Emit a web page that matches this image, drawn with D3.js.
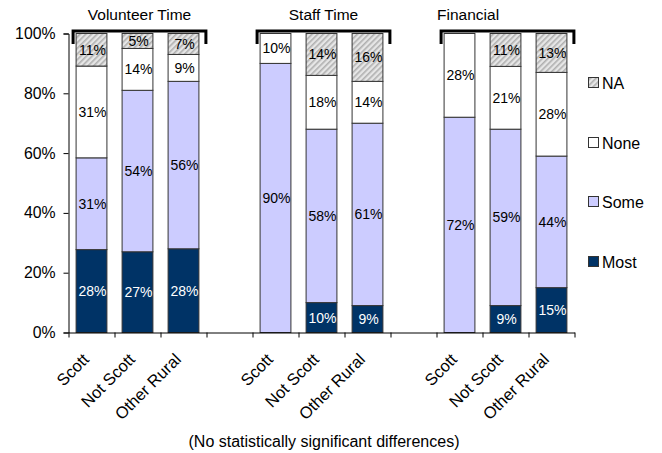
<!DOCTYPE html>
<html><head><meta charset="utf-8">
<script src="https://cdn.jsdelivr.net/npm/d3@7"></script>
<style>
body{margin:0;background:#fff;}
text{font-family:"Liberation Sans",Arial,sans-serif;}
</style></head>
<body><svg id="c" width="662" height="453"></svg>
<script>
const groups = ["Volunteer Time","Staff Time","Financial"];
const categories = ["Scott","Not Scott","Other Rural"];
const seriesNames = ["Most","Some","None","NA"];
// values per group, per category: [Most, Some, None, NA]
const volunteerValues = [[28,31,31,11],[27,54,14,5],[28,56,9,7]];
const staffValues = [[0,90,10,0],[10,58,18,14],[9,61,14,16]];
const financialValues = [[0,72,28,0],[9,59,21,11],[15,44,28,13]];
const yTicks = [0,0.2,0.4,0.6,0.8,1];
const footnote = "(No statistically significant differences)";

const groupValues = [volunteerValues, staffValues, financialValues];
const colors = {Most:"#003366", Some:"#CCCCFF", None:"#FFFFFF", NA:"url(#hatch)"};
const labelColors = {Most:"#fff", Some:"#000", None:"#000", NA:"#000"};

const svg = d3.select("#c");
const defs = svg.append("defs");
const pat = defs.append("pattern").attr("id","hatch").attr("patternUnits","userSpaceOnUse")
  .attr("width",4).attr("height",4).attr("patternTransform","rotate(45)");
pat.append("rect").attr("width",4).attr("height",4).attr("fill","#e6e6e6");
pat.append("rect").attr("width",1.6).attr("height",4).attr("fill","#b0b0b0");

// Build slots
const slots = [];
groups.forEach((g,gi)=>{
  categories.forEach((c,ci)=>slots.push({g,gi,c,ci,id:g+"|"+c}));
  if(gi<groups.length-1) slots.push({gap:true,id:"gap"+gi});
});
const mLeft=68.5, mRight=574.5, mTop=33.5, mBottom=332.5;
const x = d3.scaleBand().domain(slots.map(s=>s.id)).range([mLeft,mRight]).padding(0);
const xEdge = d3.scaleLinear().domain([0,slots.length]).range([mLeft,mRight]);
const y = d3.scaleLinear().domain([0,1]).range([mBottom,mTop]);
const bw = x.bandwidth()*0.67;

// Data rows
const rows = [];
groups.forEach((g,gi)=>categories.forEach((c,ci)=>{
  const r = {id:g+"|"+c};
  seriesNames.forEach((s,si)=>r[s]=groupValues[gi][ci][si]);
  rows.push(r);
}));
const stack = d3.stack().keys(seriesNames).offset(d3.stackOffsetExpand);
const series = stack(rows);

const gBars = svg.append("g");
series.forEach(ser=>{
  ser.forEach(d=>{
    const v = d.data[ser.key];
    if(v<=0) return;
    const x0 = x(d.data.id)+(x.bandwidth()-bw)/2;
    gBars.append("rect").attr("x",x0).attr("y",y(d[1])).attr("width",bw)
      .attr("height",y(d[0])-y(d[1])).attr("fill",colors[ser.key])
      .attr("stroke","#333").attr("stroke-width",1);
  });
});
series.forEach(ser=>{
  ser.forEach(d=>{
    const v = d.data[ser.key];
    if(v<=0) return;
    gBars.append("text").attr("x",x(d.data.id)+x.bandwidth()/2+1)
      .attr("y",y((d[0]+d[1])/2)).attr("dy","0.36em").attr("text-anchor","middle")
      .attr("font-size",14).attr("fill",labelColors[ser.key]).text(v+"%");
  });
});

// Y axis
const yAxis = d3.axisLeft(y).tickValues(yTicks).tickFormat(d3.format(".0%")).tickSizeOuter(0).tickSize(5);
const gy = svg.append("g").attr("transform",`translate(${mLeft},0)`).call(yAxis);
gy.selectAll("text").attr("font-size",15.8).attr("fill","#000").attr("x",-13);
gy.selectAll("line,path").attr("stroke","#000");

// X axis with ticks at slot edges
const xAxis = d3.axisBottom(xEdge).tickValues(d3.range(slots.length+1)).tickFormat("").tickSize(5).tickSizeOuter(0);
const gx = svg.append("g").attr("transform",`translate(0,${mBottom})`).call(xAxis);
gx.selectAll("line,path").attr("stroke","#000");

// Category labels
slots.filter(s=>!s.gap).forEach(s=>{
  const cx = x(s.id)+x.bandwidth()/2-1.5;
  svg.append("text").attr("transform",`translate(${cx},${mBottom+28}) rotate(-45)`)
    .attr("text-anchor","end").attr("font-size",16.5).attr("fill","#000").text(s.c);
});

// Group brackets and titles
groups.forEach((g,gi)=>{
  const ids = slots.filter(s=>s.gi===gi && !s.gap).map(s=>s.id);
  const x0 = x(ids[0])+(x.bandwidth()-bw)/2-3;
  const x1 = x(ids[2])+(x.bandwidth()+bw)/2+7;
  svg.append("path").attr("d",`M${x0},44V31H${x1}V44`).attr("fill","none")
    .attr("stroke","#000").attr("stroke-width",3);
  const tx = gi===2 ? x0-4 : (x0+x1)/2;
  svg.append("text").attr("x",tx).attr("y",20).attr("text-anchor",gi===2?"start":"middle")
    .attr("font-size",15.5).attr("fill","#000").text(g);
});

// Legend
const legendY = {NA:83, None:143, Some:202, Most:262};
seriesNames.forEach(s=>{
  const ly = legendY[s];
  svg.append("rect").attr("x",588.5).attr("y",ly-5.5).attr("width",10).attr("height",10)
    .attr("fill",colors[s]).attr("stroke","#333");
  svg.append("text").attr("x",602).attr("y",ly).attr("dy","0.36em").attr("font-size",16).attr("fill","#000").text(s);
});

// Footnote
svg.append("text").attr("x",324).attr("y",447).attr("text-anchor","middle").attr("font-size",16).attr("fill","#000").text(footnote);
</script></body></html>
